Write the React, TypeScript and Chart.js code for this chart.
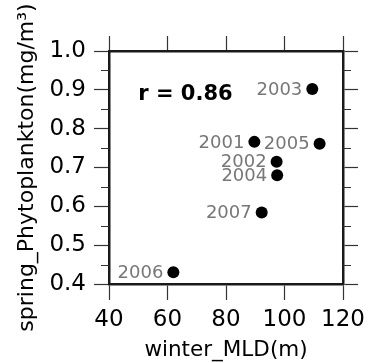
import React, { useEffect, useRef } from 'react';
import { Chart, registerables } from 'chart.js';

Chart.register(...registerables);

// ---- data ----
const years = ['2001', '2002', '2003', '2004', '2005', '2006', '2007'];
const winterMLD = [89.7, 97.3, 109.5, 97.5, 112, 62, 92.2];
const springPhyto = [0.766, 0.715, 0.902, 0.68, 0.761, 0.43, 0.584];
const xTicks = [40, 60, 80, 100, 120];
const yTicks = [0.4, 0.5, 0.6, 0.7, 0.8, 0.9, 1.0];
const yMinorTicks = [0.45, 0.55, 0.65, 0.75, 0.85, 0.95];
const corrText = 'r = 0.86';
const corrAnchor = [50, 0.887];

const FONT = '"DejaVu Sans", sans-serif';

export default function App() {
  const ref = useRef<HTMLCanvasElement>(null);

  useEffect(() => {
    document.body.style.margin = '0';
    const canvas = ref.current!;

    const overlay = {
      id: 'overlay',
      afterDatasetsDraw(chart: any) {
        const { ctx, scales } = chart;
        const x = scales.x;
        const y = scales.y;
        ctx.save();
        ctx.font = `18px ${FONT}`;
        ctx.fillStyle = '#777777';
        ctx.textAlign = 'right';
        ctx.textBaseline = 'middle';
        years.forEach((yr, i) => {
          ctx.fillText(yr, x.getPixelForValue(winterMLD[i]) - 10, y.getPixelForValue(springPhyto[i]) + 1);
        });
        ctx.font = `bold 21px ${FONT}`;
        ctx.fillStyle = '#000000';
        ctx.textAlign = 'left';
        ctx.fillText(corrText, x.getPixelForValue(corrAnchor[0]), y.getPixelForValue(corrAnchor[1]));
        ctx.restore();
      },
      afterDraw(chart: any) {
        const { ctx, scales, chartArea } = chart;
        const y = scales.y;
        ctx.save();
        ctx.strokeStyle = '#333333';
        ctx.lineWidth = 1.2;
        yMinorTicks.forEach((v) => {
          const py = Math.round(y.getPixelForValue(v)) + 0.5;
          ctx.beginPath();
          ctx.moveTo(chartArea.left - 8, py);
          ctx.lineTo(chartArea.left, py);
          ctx.moveTo(chartArea.right, py);
          ctx.lineTo(chartArea.right + 8, py);
          ctx.stroke();
        });
        ctx.restore();
      },
    };

    const grid = {
      display: true,
      drawOnChartArea: false,
      drawTicks: true,
      tickLength: 15,
      tickWidth: 1.2,
      tickColor: '#333333',
    };
    const border = { display: true, width: 2.5, color: '#1a1a1a' };

    const chart = new Chart(canvas, {
      type: 'scatter',
      data: {
        datasets: [
          {
            data: winterMLD.map((v, i) => ({ x: v, y: springPhyto[i] })),
            backgroundColor: '#000000',
            borderWidth: 0,
            pointRadius: 6,
            pointHoverRadius: 6,
          },
        ],
      },
      options: {
        responsive: false,
        animation: false,
        layout: { padding: 0 },
        plugins: { legend: { display: false }, tooltip: { enabled: false } },
        scales: {
          x: {
            type: 'linear',
            position: 'bottom',
            min: xTicks[0],
            max: xTicks[xTicks.length - 1],
            afterBuildTicks: (s: any) => { s.ticks = xTicks.map((v) => ({ value: v })); },
            ticks: { color: '#000', font: { family: FONT, size: 23 }, padding: 6, maxRotation: 0 },
            grid: { ...grid, tickLength: 16 },
            border,
            title: { display: true, text: 'winter_MLD(m)', color: '#000', font: { family: FONT, size: 21.5 }, padding: 0 },
            afterFit: (s: any) => { s.height = 79; },
          },
          x2: {
            type: 'linear',
            position: 'top',
            min: xTicks[0],
            max: xTicks[xTicks.length - 1],
            afterBuildTicks: (s: any) => { s.ticks = xTicks.map((v) => ({ value: v })); },
            ticks: { display: false },
            grid,
            border,
            afterFit: (s: any) => { s.height = 51; },
          },
          y: {
            type: 'linear',
            position: 'left',
            min: yTicks[0],
            max: yTicks[yTicks.length - 1],
            afterBuildTicks: (s: any) => { s.ticks = yTicks.map((v) => ({ value: v })); },
            ticks: { color: '#000', font: { family: FONT, size: 23 }, padding: 8, callback: (v: any) => Number(v).toFixed(1) },
            grid,
            border,
            title: { display: true, text: 'spring_Phytoplankton(mg/m³)', color: '#000', font: { family: FONT, size: 22 }, padding: { top: 14, bottom: 0 } },
            afterFit: (s: any) => { s.width = 109; },
          },
          y2: {
            type: 'linear',
            position: 'right',
            min: yTicks[0],
            max: yTicks[yTicks.length - 1],
            afterBuildTicks: (s: any) => { s.ticks = yTicks.map((v) => ({ value: v })); },
            ticks: { display: false },
            grid,
            border,
            afterFit: (s: any) => { s.width = 28; },
          },
        },
      },
      plugins: [overlay],
    } as any);

    return () => chart.destroy();
  }, []);

  return (
    <div style={{ position: 'absolute', left: 0, top: 0, width: 371, height: 363, background: '#fff' }}>
      <canvas ref={ref} width={371} height={363} />
    </div>
  );
}
